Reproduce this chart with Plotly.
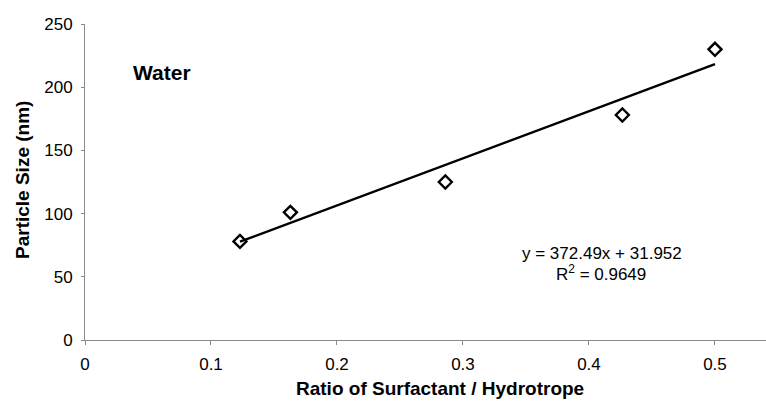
import plotly.graph_objects as go

# Data
ratio = [0.123, 0.163, 0.286, 0.4265, 0.5]
particle_size = [78, 101, 125, 178, 230]
slope = 372.49
intercept = 31.952
r_squared = 0.9649
x_ticks = [0, 0.1, 0.2, 0.3, 0.4, 0.5]
y_ticks = [0, 50, 100, 150, 200, 250]

trend_x = [min(ratio), max(ratio)]
trend_y = [slope * v + intercept for v in trend_x]

FONT = "Arial, 'Liberation Sans', sans-serif"

fig = go.Figure()
fig.add_trace(go.Scatter(x=trend_x, y=trend_y, mode="lines",
                         line=dict(color="black", width=2.4), showlegend=False))
fig.add_trace(go.Scatter(x=ratio, y=particle_size, mode="markers",
                         marker=dict(symbol="diamond-open", size=10, color="black",
                                     line=dict(color="black", width=2.4)),
                         showlegend=False, cliponaxis=False))

fig.update_layout(
    width=766, height=401,
    margin=dict(l=85, r=0, t=24, b=61),
    paper_bgcolor="white", plot_bgcolor="white",
    font=dict(family=FONT, size=18, color="black"),
    xaxis=dict(range=[0, 0.5405], tickvals=x_ticks, ticktext=[str(v) for v in x_ticks],
               showgrid=False, zeroline=False, showline=True, linecolor="#8a8a8a",
               linewidth=1, ticks="outside", ticklen=4, tickcolor="#8a8a8a",
               ticklabelstandoff=5, tickfont=dict(size=17, family=FONT)),
    yaxis=dict(range=[0, 250], tickvals=y_ticks, showgrid=False, zeroline=False,
               showline=True, linecolor="#8a8a8a", linewidth=1, ticks="outside",
               ticklen=3, tickcolor="#8a8a8a", ticklabelstandoff=5,
               tickfont=dict(size=17, family=FONT)),
    annotations=[
        dict(text="<b>Ratio of Surfactant / Hydrotrope</b>", xref="paper", yref="paper",
             x=(440 - 85) / 681, y=-(388 - 340) / 316, showarrow=False,
             font=dict(size=19, family=FONT), xanchor="center", yanchor="middle"),
        dict(text="<b>Particle Size (nm)</b>", xref="paper", yref="paper",
             x=-(85 - 22) / 681, y=(340 - 180) / 316, showarrow=False, textangle=-90,
             font=dict(size=19, family=FONT), xanchor="center", yanchor="middle"),
        dict(text="<b>Water</b>", x=(131 - 85) / 681, y=(340 - 72) / 316, xref="paper",
             yref="paper", showarrow=False, xanchor="left", yanchor="middle",
             font=dict(size=21, family=FONT)),
        dict(text=f"y = {slope}x + {intercept}", xref="paper", yref="paper",
             x=(602 - 85) / 681, y=(340 - 253) / 316, showarrow=False,
             xanchor="center", yanchor="middle", font=dict(size=17, family=FONT)),
        dict(text=f"R<sup>2</sup> = {r_squared}", xref="paper", yref="paper",
             x=(601 - 85) / 681, y=(340 - 273) / 316, showarrow=False,
             xanchor="center", yanchor="middle", font=dict(size=17, family=FONT)),
    ],
)

fig.write_html("out.html")
